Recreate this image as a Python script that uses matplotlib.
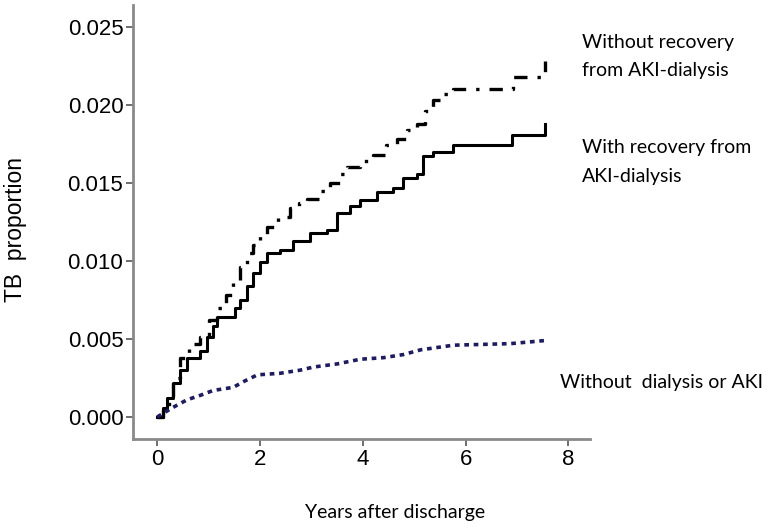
import matplotlib.pyplot as plt

# Kaplan-Meier style cumulative TB proportion
years_norec = [0.0, 0.12, 0.3, 0.45, 0.62, 0.84, 1.0, 1.17, 1.33, 1.48, 1.62, 1.75, 1.87, 2.0, 2.14,
               2.35, 2.59, 2.75, 2.92, 3.15, 3.37, 3.55, 3.70, 3.95, 4.20, 4.45, 4.67, 4.85,
               5.06, 5.2, 5.37, 5.55, 5.76, 6.87, 6.93, 7.55]
tb_norec = [0.0, 0.0008, 0.0025, 0.0038, 0.0047, 0.0051, 0.0062, 0.0070, 0.0078, 0.0086, 0.0096,
            0.0105, 0.0110, 0.0117, 0.0122, 0.0128, 0.0134, 0.0137, 0.0140, 0.0145, 0.0150,
            0.0156, 0.0160, 0.0164, 0.0168, 0.0174, 0.0178, 0.0184, 0.0188, 0.0196, 0.0203,
            0.0207, 0.0210, 0.0210, 0.0218, 0.0228]

years_rec = [0.0, 0.12, 0.2, 0.31, 0.45, 0.58, 0.84, 0.97, 1.08, 1.17, 1.42, 1.52, 1.61, 1.75, 1.87,
             2.0, 2.14, 2.39, 2.65, 2.98, 3.31, 3.50, 3.75, 3.95, 4.28, 4.59, 4.79, 5.06,
             5.18, 5.37, 5.76, 6.91, 7.55]
tb_rec = [0.0, 0.0006, 0.0012, 0.0022, 0.0030, 0.0038, 0.0042, 0.0051, 0.0058, 0.0064, 0.0064,
          0.0070, 0.0075, 0.0084, 0.0092, 0.0099, 0.0105, 0.0107, 0.0113, 0.0118, 0.0120,
          0.0131, 0.0135, 0.0139, 0.0144, 0.0147, 0.0153, 0.0156, 0.0167, 0.0170, 0.0174,
          0.0181, 0.0188]

years_none = [0.0, 0.3, 0.58, 0.85, 1.09, 1.48, 1.7, 1.95, 2.39, 2.78, 3.04, 3.5, 3.95, 4.4, 4.79,
              5.12, 5.76, 6.87, 7.55]
tb_none = [0.0, 0.0006, 0.0011, 0.0014, 0.0017, 0.0019, 0.0023, 0.0027, 0.0028, 0.0030, 0.0032,
           0.0034, 0.0037, 0.0038, 0.0040, 0.0043, 0.0046, 0.0047, 0.0049]

x_ticks = [0, 2, 4, 6, 8]
y_ticks = [0.000, 0.005, 0.010, 0.015, 0.020, 0.025]

fig = plt.figure(figsize=(7.68, 5.28), dpi=100)
ax = fig.add_axes([0.1732, 0.1686, 0.5951, 0.8219])

ax.plot(years_norec, tb_norec, color="black", lw=2.4, ls=(0, (4, 3, 1, 3)),
        drawstyle="steps-post")
ax.plot(years_rec, tb_rec, color="black", lw=2.2, drawstyle="steps-post")
ax.plot(years_none, tb_none, color="#1c1c5e", lw=2.6, ls=(0, (1.3, 1.3)))

ax.set_xlim(-0.47, 8.42)
ax.set_ylim(-0.00141, 0.0264)
ax.set_xticks(x_ticks)
ax.set_yticks(y_ticks)
ax.set_xticklabels([str(t) for t in x_ticks])
ax.set_yticklabels([f"{t:.3f}" for t in y_ticks])

for side in ["top", "right"]:
    ax.spines[side].set_visible(False)
for side in ["left", "bottom"]:
    ax.spines[side].set_color("#8a8a8a")
    ax.spines[side].set_linewidth(2)
ax.tick_params(direction="out", length=5, width=1.2, color="#555555",
               labelsize=16, labelcolor="black", pad=2)
for lab in ax.get_xticklabels() + ax.get_yticklabels():
    lab.set_fontfamily("Liberation Sans")

fig.text(0.02, 0.566, "TB  proportion", rotation=90, fontsize=16.5,
         family="Liberation Sans", ha="center", va="center")
fig.text(0.397, 0.03, "Years after discharge", fontsize=14, family="Lato",
         ha="left", va="center")

note_font = dict(fontsize=14, family="Lato", ha="left", va="center")
fig.text(0.758, 0.9186, "Without recovery", **note_font)
fig.text(0.758, 0.8674, "from AKI-dialysis", **note_font)
fig.text(0.758, 0.7197, "With recovery from", **note_font)
fig.text(0.758, 0.6648, "AKI-dialysis", **note_font)
fig.text(0.729, 0.2765, "Without  dialysis or AKI", **note_font)

fig.savefig("out.png", dpi=100)
